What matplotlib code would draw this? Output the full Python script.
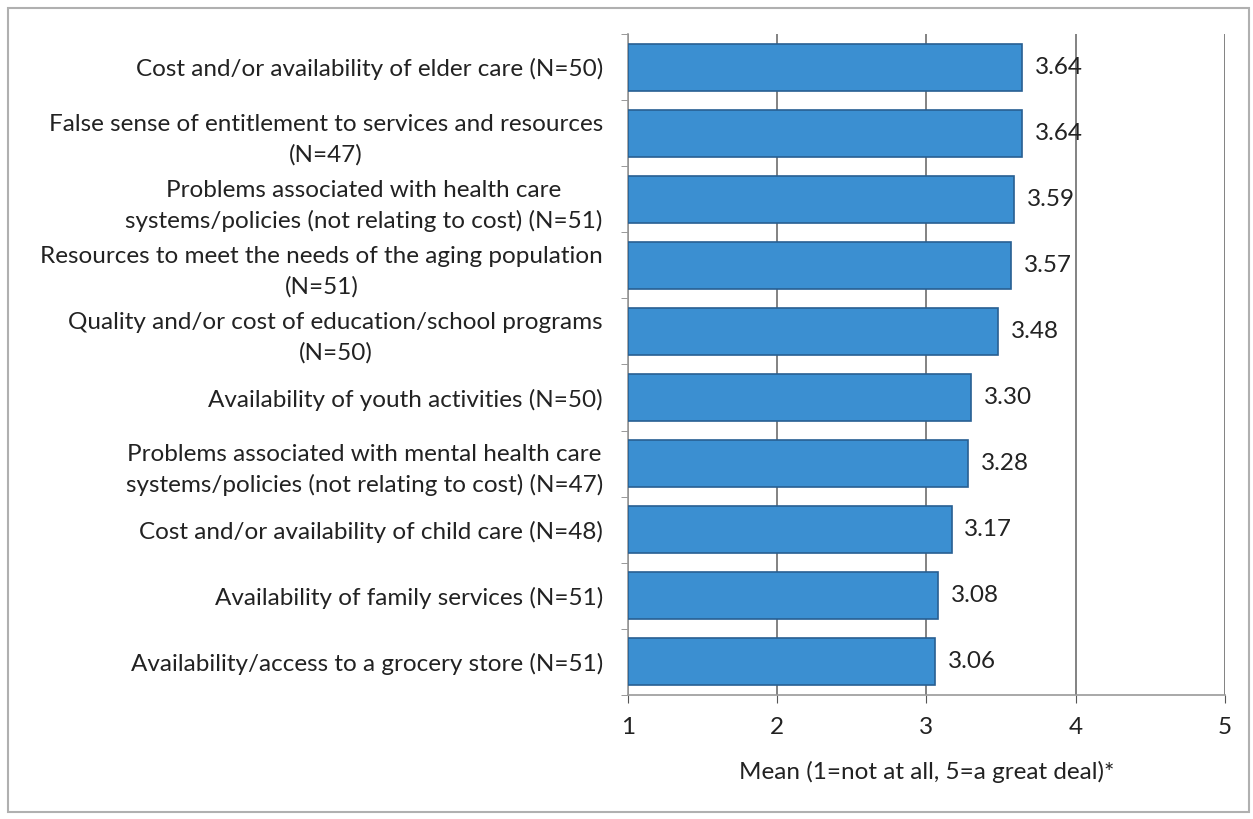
import matplotlib.pyplot as plt
from matplotlib import patches

categories = [
    "Cost and/or availability of elder care (N=50)",
    "False sense of entitlement to services and resources\n(N=47)",
    "Problems associated with health care\nsystems/policies (not relating to cost) (N=51)",
    "Resources to meet the needs of the aging population\n(N=51)",
    "Quality and/or cost of education/school programs\n(N=50)",
    "Availability of youth activities (N=50)",
    "Problems associated with mental health care\nsystems/policies (not relating to cost) (N=47)",
    "Cost and/or availability of child care (N=48)",
    "Availability of family services (N=51)",
    "Availability/access to a grocery store (N=51)",
]
means = [3.64, 3.64, 3.59, 3.57, 3.48, 3.30, 3.28, 3.17, 3.08, 3.06]
x_ticks = [1, 2, 3, 4, 5]
x_label = "Mean (1=not at all, 5=a great deal)*"

plt.rcParams['font.family'] = ['Lato', 'DejaVu Sans']
FS = 17.5

fig = plt.figure(figsize=(12.53, 8.19), dpi=100)
ax = fig.add_axes([0.501, 0.1514, 0.4766, 0.8071])

# frame around the whole picture, like the scanned page
fig.patches.append(patches.Rectangle((0.006, 0.009), 0.991, 0.981, transform=fig.transFigure,
                                     fill=False, edgecolor='#b0b0b0', linewidth=1.5))

ypos = list(range(len(categories)))
ax.barh(ypos, [m - 1 for m in means], left=1, height=0.71,
        color='#3b8fd1', edgecolor='#285f92', linewidth=1.2, zorder=3)

for y, m in zip(ypos, means):
    ax.text(m + 0.085, y, f"{m:.2f}", va='center', ha='left', fontsize=FS, color='#222222', zorder=4)

ax.set_xlim(1, 5)
ax.set_ylim(len(categories) - 0.5, -0.5)
ax.set_xticks(x_ticks)
ax.set_xticklabels([str(t) for t in x_ticks], fontsize=FS)
ax.set_yticks(ypos)
ax.set_yticklabels(categories, fontsize=FS, multialignment='center', linespacing=1.5)
ax.tick_params(axis='y', length=0, pad=18, colors='#222222')
ax.set_yticks([y + 0.5 for y in [-1] + ypos], minor=True)
ax.tick_params(axis='y', which='minor', length=5, color='#888888', direction='out')
ax.tick_params(axis='x', length=6, color='#555555', pad=10, labelcolor='#222222')
ax.set_xlabel(x_label, fontsize=FS, labelpad=16, color='#222222')

ax.grid(axis='x', color='#606060', linewidth=1.1, zorder=0)
for side in ['top', 'right']:
    ax.spines[side].set_visible(False)
ax.spines['left'].set_color('#999999')
ax.spines['bottom'].set_color('#999999')
ax.spines['left'].set_linewidth(1.2)
ax.spines['bottom'].set_linewidth(1.2)

fig.savefig("out.png", dpi=100)
